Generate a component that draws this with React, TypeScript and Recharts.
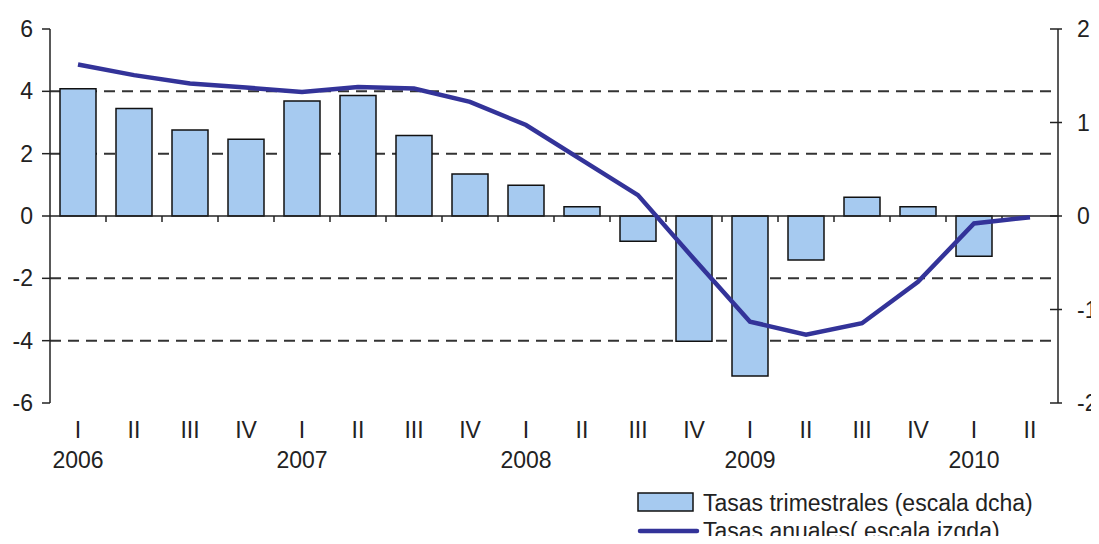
import React from "react";
import {
  ComposedChart,
  Bar,
  Line,
  XAxis,
  YAxis,
  CartesianGrid,
  ReferenceLine,
  Legend,
} from "recharts";

const quarters = ["I", "II", "III", "IV", "I", "II", "III", "IV", "I", "II", "III", "IV", "I", "II", "III", "IV", "I", "II"];
const years = ["2006", "", "", "", "2007", "", "", "", "2008", "", "", "", "2009", "", "", "", "2010", ""];
const quarterlyRates = [1.36, 1.15, 0.92, 0.82, 1.23, 1.29, 0.86, 0.45, 0.33, 0.1, -0.27, -1.34, -1.71, -0.47, 0.2, 0.1, -0.43, null];
const annualRates = [4.86, 4.52, 4.25, 4.12, 3.98, 4.14, 4.09, 3.66, 2.92, 1.79, 0.67, -1.38, -3.39, -3.81, -3.44, -2.11, -0.24, -0.04];

const leftTicks = [-6, -4, -2, 0, 2, 4, 6];
const rightTicks = [-2, -1, 0, 1, 2];
const gridValues = [4, 2, -2, -4];

const barName = "Tasas trimestrales (escala dcha)";
const lineName = "Tasas anuales( escala izqda)";

const data = quarters.map((q, i) => ({
  key: `${q}-${i}`,
  q,
  year: years[i],
  trimestral: quarterlyRates[i],
  anual: annualRates[i],
}));

const FONT = "'Liberation Sans', Arial, sans-serif";
const TEXT = "#222";
const AXIS = "#222";
const FS = 23;

const XTick = (props: any) => {
  const { x, y, index } = props;
  const d = data[index];
  return (
    <g>
      <text x={x} y={y + 35} textAnchor="middle" fontSize={FS} fontFamily={FONT} fill={TEXT}>
        {d ? d.q : ""}
      </text>
      {d && d.year ? (
        <text x={x} y={y + 65} textAnchor="middle" fontSize={FS} fontFamily={FONT} fill={TEXT}>
          {d.year}
        </text>
      ) : null}
    </g>
  );
};

const RightTick = (props: any) => {
  const { x, y, payload } = props;
  return (
    <g>
      <line x1={x - 8} x2={x + 4} y1={y} y2={y} stroke={AXIS} strokeWidth={1.5} />
      <text x={x + 19} y={y} dy="0.36em" textAnchor="start" fontSize={FS} fontFamily={FONT} fill={TEXT}>
        {payload.value}
      </text>
    </g>
  );
};

const ZeroLine = (props: any) => {
  const { x1, x2, y1 } = props;
  const n = data.length;
  const step = (x2 - x1) / n;
  const ticks = [];
  for (let i = 1; i < n; i++) {
    const tx = x1 + step * i;
    ticks.push(<line key={i} x1={tx} x2={tx} y1={y1} y2={y1 + 6} stroke={AXIS} strokeWidth={1.5} />);
  }
  return (
    <g>
      <line x1={x1} x2={x2} y1={y1} y2={y1} stroke={AXIS} strokeWidth={1.5} />
      {ticks}
    </g>
  );
};

const LegendContent = () => (
  <svg width={460} height={56} style={{ overflow: "visible", display: "block" }}>
    <rect x={5} y={7} width={55} height={18} fill="#A6CAF0" stroke="#111" strokeWidth={1.5} />
    <text x={70} y={25} fontSize={FS} fontFamily={FONT} fill={TEXT}>
      {barName}
    </text>
    <line x1={7} x2={64} y1={45} y2={45} stroke="#333399" strokeWidth={4.5} strokeLinecap="round" />
    <text x={70} y={53} fontSize={FS} fontFamily={FONT} fill={TEXT}>
      {lineName}
    </text>
  </svg>
);

export default function App() {
  return (
    <div style={{ width: 1091, height: 528 }}>
      <ComposedChart
        width={1091}
        height={528}
        data={data}
        margin={{ top: 21, right: 0, bottom: 63, left: 0 }}
        barCategoryGap={0}
      >
        <CartesianGrid
          yAxisId="left"
          horizontal={true}
          vertical={false}
          horizontalValues={gridValues}
          stroke="#333"
          strokeWidth={2}
          strokeDasharray="11 7"
        />
        <XAxis
          dataKey="key"
          axisLine={false}
          tickLine={false}
          tickSize={0}
          tickMargin={0}
          height={70}
          interval={0}
          tick={<XTick />}
        />
        <YAxis
          yAxisId="left"
          orientation="left"
          domain={[-6, 6]}
          ticks={leftTicks}
          interval={0}
          width={42}
          axisLine={{ stroke: AXIS, strokeWidth: 1.5 }}
          tickLine={{ stroke: AXIS, strokeWidth: 1.5 }}
          tickSize={8}
          tickMargin={9}
          tick={{ fontSize: FS, fontFamily: FONT, fill: TEXT }}
        />
        <YAxis
          yAxisId="right"
          orientation="right"
          domain={[-2, 2]}
          ticks={rightTicks}
          interval={0}
          width={41}
          axisLine={{ stroke: AXIS, strokeWidth: 1.5 }}
          tickLine={false}
          tickSize={0}
          tickMargin={0}
          tick={<RightTick />}
        />
        <Bar
          yAxisId="right"
          dataKey="trimestral"
          name={barName}
          fill="#A6CAF0"
          stroke="#111"
          strokeWidth={1.5}
          barSize={36}
          isAnimationActive={false}
        />
        <ReferenceLine yAxisId="left" y={0} shape={<ZeroLine />} />
        <Line
          yAxisId="left"
          type="linear"
          dataKey="anual"
          name={lineName}
          stroke="#333399"
          strokeWidth={4.5}
          dot={false}
          activeDot={false}
          isAnimationActive={false}
        />
        <Legend
          layout="horizontal"
          verticalAlign="middle"
          align="center"
          content={<LegendContent />}
          wrapperStyle={{ position: "absolute", left: 625, top: 478, width: 460, height: 56 }}
        />
      </ComposedChart>
    </div>
  );
}
